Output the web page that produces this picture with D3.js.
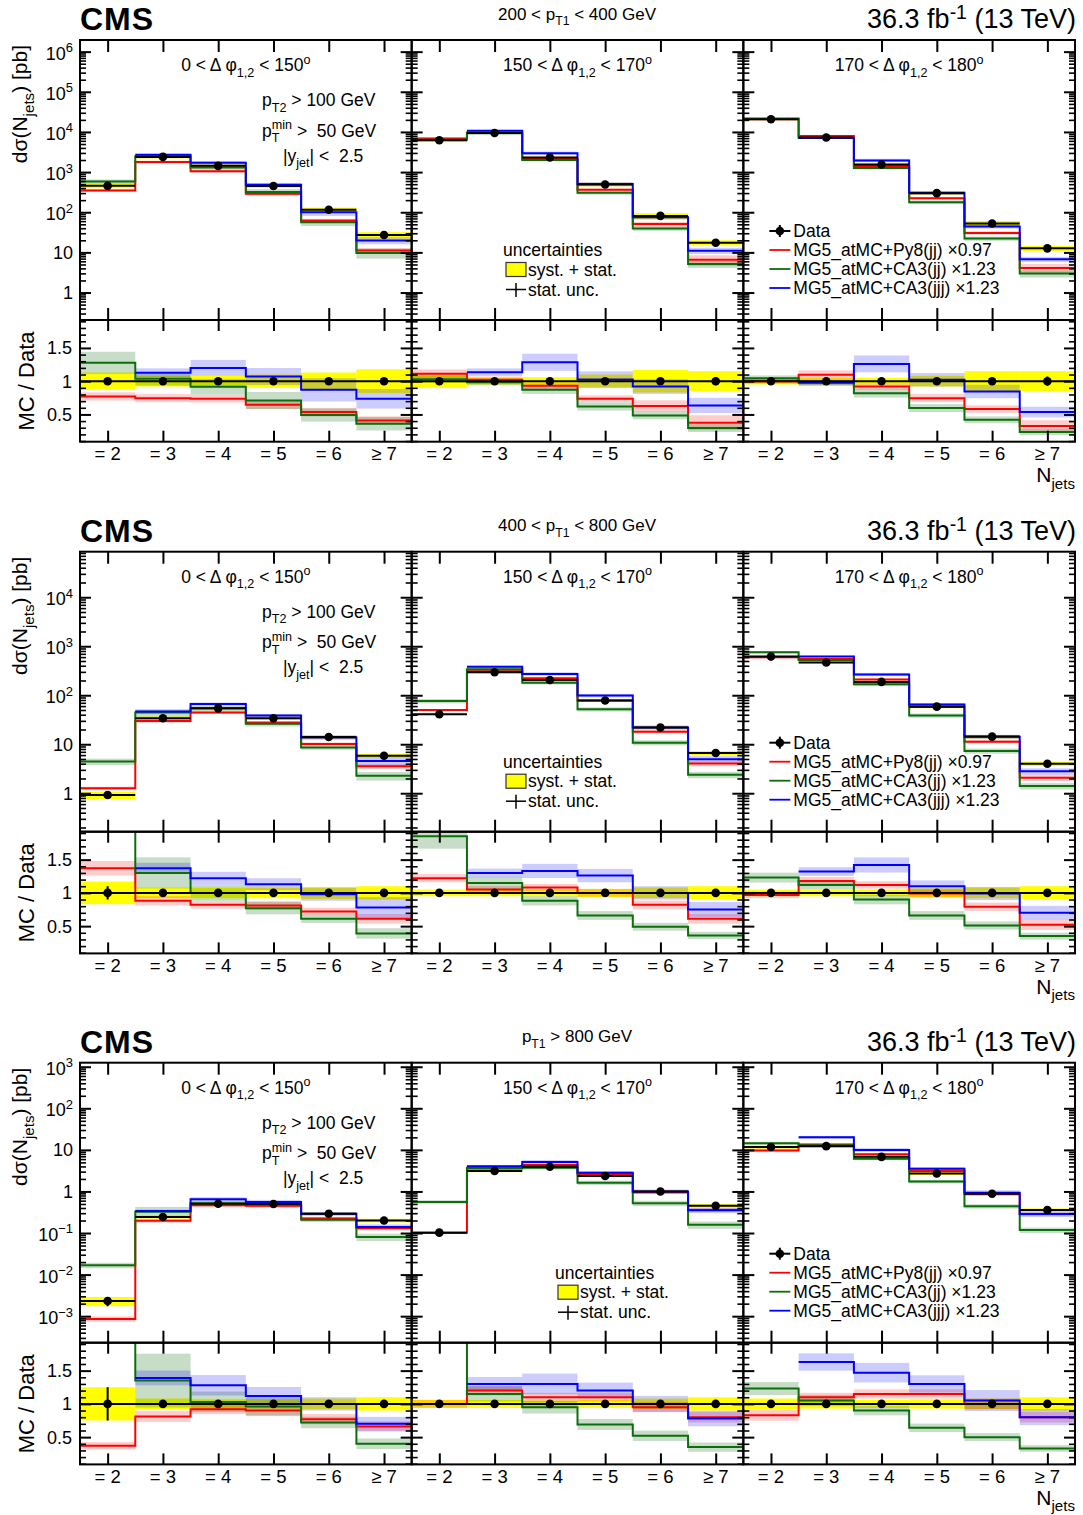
<!DOCTYPE html>
<html><head><meta charset="utf-8">
<script src="https://cdn.jsdelivr.net/npm/d3@7"></script>
<style>
body{margin:0;background:#fff}
text{font-family:"Liberation Sans",Arial,Helvetica,sans-serif;white-space:pre;fill:#000}
</style>
</head><body>
<svg id="c" width="1083" height="1515"></svg>
<script>
// ---------------- DATA ----------------
const njetsLabels = ["= 2","= 3","= 4","= 5","= 6","≥ 7"];
const ptLabels = ["200 < p_{T1} < 400 GeV","400 < p_{T1} < 800 GeV","p_{T1} > 800 GeV"];
const dphiLabels = ["0 < Δ φ_{1,2} < 150^{o}","150 < Δ φ_{1,2} < 170^{o}","170 < Δ φ_{1,2} < 180^{o}"];
const cutLabels = ["p_{T2} > 100 GeV","p_{T}^{min} >  50 GeV","|y_{jet}| <  2.5"];
const modelNames = ["MG5_atMC+Py8(jj) ×0.97","MG5_atMC+CA3(jj) ×1.23","MG5_atMC+CA3(jjj) ×1.23"];
const yDomains = [[0.207,1.95e6],[0.164,8.5e4],[2.3e-4,1.25e3]];
const yTickExp = [[0,1,2,3,4,5,6],[0,1,2,3,4],[-3,-2,-1,0,1,2,3]];
const ratioDomain = [0.09,1.92];
const ratioTicks = [0.5,1,1.5];
const ratioTickLabels = ["0.5","1","1.5"];

// measured cross sections [pTbin][dphiBin][njets]
const dataXsec = [
 [[454,2390,1430,450,115,27],[6200,9440,2300,492,81,17.4],[20700,7260,1550,299,52.6,12.6]],
 [[0.92,34,54,34,14,5.8],[41,295,205,78,22,6.6],[615,465,187,58.5,14.3,4.0]],
 [[0.00232,0.242,0.506,0.5,0.29,0.2],[0.102,3.1,3.93,2.35,1.0,0.45],[11.7,12.3,6.8,2.7,0.88,0.356]]
];
// relative syst+stat
const dataSystRel = [
 [[0.13,0.08,0.08,0.1,0.13,0.18],[0.1,0.05,0.06,0.1,0.17,0.15],[0.05,0.05,0.05,0.08,0.15,0.15]],
 [[0.17,0.08,0.08,0.08,0.09,0.1],[0.05,0.05,0.05,0.06,0.08,0.1],[0.05,0.05,0.05,0.07,0.08,0.1]],
 [[0.25,0.08,0.07,0.07,0.08,0.1],[0.06,0.06,0.05,0.06,0.08,0.1],[0.08,0.07,0.06,0.07,0.08,0.1]]
];
// relative stat
const dataStatRel = [
 [[0.01,0.005,0.005,0.01,0.02,0.03],[0.01,0.005,0.01,0.02,0.03,0.06],[0.005,0.005,0.01,0.02,0.03,0.07]],
 [[0.1,0.02,0.02,0.02,0.03,0.05],[0.02,0.01,0.01,0.02,0.03,0.05],[0.01,0.01,0.01,0.02,0.03,0.05]],
 [[0.25,0.03,0.03,0.03,0.04,0.05],[0.04,0.02,0.02,0.02,0.03,0.05],[0.03,0.02,0.02,0.03,0.04,0.05]]
];
// MC / Data
const ratioPy8 = [
 [[0.77,0.745,0.735,0.645,0.535,0.41],[1.11,1.02,0.93,0.735,0.625,0.375],[1.0,1.096,0.92,0.745,0.58,0.325]],
 [[1.37,0.88,0.82,0.81,0.72,0.61],[1.22,1.05,1.08,1.0,0.82,0.61],[0.97,1.18,1.12,0.99,0.79,0.52]],
 [[0.37,0.81,0.92,0.9,0.77,0.66],[1.0,1.2,1.1,1.1,0.95,0.8],[0.83,1.1,1.15,1.15,1.0,0.8]]
];
const ratioCA3jj = [
 [[1.276,1.036,0.916,0.71,0.49,0.36],[1.03,0.985,0.87,0.62,0.485,0.295],[1.045,0.976,0.82,0.595,0.42,0.235]],
 [[4.8,1.3,1.0,0.77,0.61,0.39],[1.85,1.15,0.88,0.66,0.49,0.36],[1.23,1.12,0.9,0.66,0.51,0.35]],
 [[7.2,1.35,1.03,0.96,0.72,0.4],[5.5,1.15,0.95,0.69,0.52,0.35],[1.23,1.05,0.9,0.64,0.5,0.33]]
];
const ratioCA3jjj = [
 [[null,1.126,1.2,1.07,0.87,0.735],[null,1.135,1.285,1.025,0.92,0.635],[null,0.98,1.26,1.02,0.845,0.535]],
 [[null,1.37,1.22,1.13,0.98,0.78],[null,1.3,1.33,1.26,1.0,0.75],[null,1.32,1.42,1.1,0.99,0.7]],
 [[null,1.39,1.28,1.12,1.0,0.7],[null,1.3,1.3,1.2,1.0,0.78],[null,1.63,1.47,1.3,1.05,0.8]]
];
// MC relative uncertainties
const uncPy8 = [
 [[0.08,0.08,0.08,0.1,0.12,0.15],[0.06,0.05,0.05,0.07,0.14,0.3],[0.04,0.06,0.05,0.08,0.1,0.27]],
 [[0.08,0.08,0.07,0.08,0.08,0.12],[0.05,0.05,0.05,0.06,0.08,0.12],[0.05,0.05,0.05,0.06,0.08,0.15]],
 [[0.15,0.1,0.08,0.08,0.1,0.12],[0.06,0.06,0.06,0.06,0.08,0.1],[0.1,0.06,0.06,0.06,0.08,0.1]]
];
const uncCA3jj = [
 [[0.13,0.1,0.13,0.18,0.2,0.28],[0.05,0.05,0.07,0.1,0.12,0.2],[0.04,0.04,0.08,0.1,0.12,0.2]],
 [[0.15,0.18,0.12,0.12,0.1,0.2],[0.1,0.08,0.08,0.1,0.12,0.15],[0.06,0.06,0.08,0.1,0.12,0.15]],
 [[0.15,0.3,0.15,0.15,0.12,0.2],[0.1,0.1,0.1,0.12,0.15,0.2],[0.08,0.08,0.08,0.1,0.12,0.15]]
];
const uncCA3jjj = [
 [[null,0.06,0.1,0.12,0.2,0.2],[null,0.05,0.1,0.12,0.12,0.18],[null,0.05,0.1,0.1,0.12,0.15]],
 [[null,0.06,0.08,0.08,0.1,0.2],[null,0.05,0.08,0.08,0.1,0.15],[null,0.05,0.08,0.08,0.1,0.15]],
 [[null,0.08,0.12,0.12,0.1,0.15],[null,0.08,0.12,0.1,0.12,0.15],[null,0.08,0.1,0.1,0.15,0.15]]
];

// ---------------- LAYOUT / STYLE ----------------
const colX0 = 80, colW = 331.67;
const blockY = [0, 511.7, 1022.7];
const topY0 = 40, topY1 = 320, ratY1 = 441.7;
const lineColors = ["#ff0000","#0b6e0b","#0000ff"];
const bandColors = ["rgba(255,0,0,0.2)","rgba(0,100,0,0.22)","rgba(0,0,255,0.2)"];
const uncLegendX = [503,503,555];

const svg = d3.select("#c");
const defs = svg.append("defs");
let clipN = 0;
function clip(x,y,w,h){
  const id = "cl"+(clipN++);
  defs.append("clipPath").attr("id",id).append("rect").attr("x",x).attr("y",y).attr("width",w).attr("height",h);
  return "url(#"+id+")";
}

function rich(parent, x, y, str, fs, anchor, extra, supRaise){
  const t = parent.append("text").attr("x",x).attr("y",y).attr("font-size",fs).attr("text-anchor",anchor||"start");
  if (extra) extra(t);
  const toks = str.split(/(_\{[^}]*\}|\^\{[^}]*\})/).filter(s=>s.length);
  let shift = 0, prevSub = null;
  toks.forEach(tok=>{
    let txt = tok, target = 0, size = fs, kind = "n";
    if (tok.startsWith("_{")) { txt = tok.slice(2,-1); target = fs*0.32; size = fs*0.72; kind="sub"; }
    else if (tok.startsWith("^{")) { txt = tok.slice(2,-1); target = -fs*(supRaise||0.42); size = fs*0.72; kind="sup"; }
    const ts = t.append("tspan").attr("dy", target-shift).attr("font-size", size).text(txt);
    if (kind==="sup" && prevSub) ts.attr("dx", -prevSub.node().getComputedTextLength());
    prevSub = kind==="sub" ? ts : null;
    shift = target;
  });
  return t;
}

function stepPath(xs, ys, vals){
  const pts = [];
  let last = -1;
  vals.forEach((v,i)=>{ if (v!=null){ pts.push([xs(i), ys(v)]); last = i; } });
  pts.push([xs(last+1), ys(vals[last])]);
  return d3.line().curve(d3.curveStepAfter)(pts);
}

function styleAxis(g, w){
  g.select(".domain").remove();
  g.selectAll(".tick line").attr("stroke","#000").attr("stroke-width",w);
}

for (let b=0;b<3;b++){
  const yo = blockY[b];
  const yT = d3.scaleLog().domain(yDomains[b]).range([yo+topY1, yo+topY0]);
  const yR = d3.scaleLinear().domain(ratioDomain).range([yo+ratY1, yo+topY1]);
  const majors = yTickExp[b].map(e=>Math.pow(10,e));
  const minors = [];
  const lo = Math.floor(Math.log10(yDomains[b][0])), hi = Math.floor(Math.log10(yDomains[b][1]));
  for (let e=lo;e<=hi;e++) for (let k=2;k<=9;k++){ const v=k*Math.pow(10,e); if (v>=yDomains[b][0] && v<=yDomains[b][1]) minors.push(v); }
  const rMinors = d3.range(1,20).map(k=>k/10).filter(v=>v>ratioDomain[0]&&v<ratioDomain[1]&&[5,10,15].indexOf(Math.round(v*10))<0);

  for (let c=0;c<3;c++){
    const x0 = colX0 + c*colW, x1 = x0 + colW;
    const x = d3.scaleLinear().domain([0,6]).range([x0,x1]);
    const dv = dataXsec[b][c], sy = dataSystRel[b][c], st = dataStatRel[b][c];
    const ratios = [ratioPy8[b][c], ratioCA3jj[b][c], ratioCA3jjj[b][c]];
    const uncs = [uncPy8[b][c], uncCA3jj[b][c], uncCA3jjj[b][c]];
    const idx = d3.range(6);

    // ---- top panel ----
    const gT = svg.append("g").attr("clip-path", clip(x0, yo+topY0, colW, topY1-topY0));
    gT.selectAll("rect.sys").data(idx).join("rect")
      .attr("x",i=>x(i)).attr("width",i=>x(i+1)-x(i))
      .attr("y",i=>yT(dv[i]*(1+sy[i]))).attr("height",i=>yT(dv[i]*(1-sy[i]))-yT(dv[i]*(1+sy[i])))
      .attr("fill","#ffff00");
    ratios.forEach((r,m)=>{
      gT.selectAll("rect.b"+m).data(idx.filter(i=>r[i]!=null)).join("rect")
        .attr("x",i=>x(i)).attr("width",i=>x(i+1)-x(i))
        .attr("y",i=>yT(dv[i]*r[i]*(1+uncs[m][i]))).attr("height",i=>yT(dv[i]*r[i]*(1-uncs[m][i]))-yT(dv[i]*r[i]*(1+uncs[m][i])))
        .attr("fill",bandColors[m]);
    });
    ratios.forEach((r,m)=>{
      gT.append("path").attr("d", stepPath(x, yT, r.map((v,i)=>v==null?null:v*dv[i])))
        .attr("fill","none").attr("stroke",lineColors[m]).attr("stroke-width",2);
    });
    gT.selectAll("line.dh").data(idx).join("line")
      .attr("x1",i=>x(i)).attr("x2",i=>x(i+1)).attr("y1",i=>yT(dv[i])).attr("y2",i=>yT(dv[i]))
      .attr("stroke","#000").attr("stroke-width",2);
    gT.selectAll("line.dv").data(idx).join("line")
      .attr("x1",i=>x(i+0.5)).attr("x2",i=>x(i+0.5)).attr("y1",i=>yT(dv[i]*(1+st[i]))).attr("y2",i=>yT(dv[i]*(1-st[i])))
      .attr("stroke","#000").attr("stroke-width",2);
    gT.selectAll("circle").data(idx).join("circle")
      .attr("cx",i=>x(i+0.5)).attr("cy",i=>yT(dv[i])).attr("r",4.3).attr("fill","#000");

    // ---- ratio panel ----
    const gR = svg.append("g").attr("clip-path", clip(x0, yo+topY1, colW, ratY1-topY1));
    gR.selectAll("rect.sys").data(idx).join("rect")
      .attr("x",i=>x(i)).attr("width",i=>x(i+1)-x(i))
      .attr("y",i=>yR(1+sy[i])).attr("height",i=>yR(1-sy[i])-yR(1+sy[i]))
      .attr("fill","#ffff00");
    ratios.forEach((r,m)=>{
      gR.selectAll("rect.b"+m).data(idx.filter(i=>r[i]!=null)).join("rect")
        .attr("x",i=>x(i)).attr("width",i=>x(i+1)-x(i))
        .attr("y",i=>yR(r[i]*(1+uncs[m][i]))).attr("height",i=>yR(r[i]*(1-uncs[m][i]))-yR(r[i]*(1+uncs[m][i])))
        .attr("fill",bandColors[m]);
    });
    ratios.forEach((r,m)=>{
      gR.append("path").attr("d", stepPath(x, yR, r))
        .attr("fill","none").attr("stroke",lineColors[m]).attr("stroke-width",2);
    });
    gR.append("line").attr("x1",x0).attr("x2",x1).attr("y1",yR(1)).attr("y2",yR(1)).attr("stroke","#000").attr("stroke-width",2);
    gR.selectAll("line.dv").data(idx).join("line")
      .attr("x1",i=>x(i+0.5)).attr("x2",i=>x(i+0.5)).attr("y1",i=>yR(1+st[i])).attr("y2",i=>yR(1-st[i]))
      .attr("stroke","#000").attr("stroke-width",2);
    gR.selectAll("circle").data(idx).join("circle")
      .attr("cx",i=>x(i+0.5)).attr("cy",yR(1)).attr("r",4.3).attr("fill","#000");

    // ---- frames & ticks ----
    const gA = svg.append("g");
    gA.append("rect").attr("x",x0).attr("y",yo+topY0).attr("width",colW).attr("height",topY1-topY0).attr("fill","none").attr("stroke","#000").attr("stroke-width",2);
    gA.append("rect").attr("x",x0).attr("y",yo+topY1).attr("width",colW).attr("height",ratY1-topY1).attr("fill","none").attr("stroke","#000").attr("stroke-width",2);
    const centers = idx.map(i=>i+0.5);
    [[d3.axisBottom, yo+topY0, 12],[d3.axisTop, yo+topY1, 12],[d3.axisBottom, yo+topY1, 11],[d3.axisTop, yo+ratY1, 11]].forEach(([ax,yy,len])=>{
      styleAxis(gA.append("g").attr("transform",`translate(0,${yy})`).call(ax(x).tickValues(centers).tickSize(len).tickFormat("")), 2);
    });
    [[d3.axisRight, x0],[d3.axisLeft, x1]].forEach(([ax,xx])=>{
      styleAxis(gA.append("g").attr("transform",`translate(${xx},0)`).call(ax(yT).tickValues(majors).tickSize(11).tickFormat("")), 2);
      styleAxis(gA.append("g").attr("transform",`translate(${xx},0)`).call(ax(yT).tickValues(minors).tickSize(6).tickFormat("")), 1.6);
      styleAxis(gA.append("g").attr("transform",`translate(${xx},0)`).call(ax(yR).tickValues(ratioTicks).tickSize(11).tickFormat("")), 2);
      styleAxis(gA.append("g").attr("transform",`translate(${xx},0)`).call(ax(yR).tickValues(rMinors).tickSize(6).tickFormat("")), 1.6);
    });

    // ---- texts in panel ----
    rich(svg, (x0+x1)/2, yo+71, dphiLabels[c], 17.5, "middle");
    njetsLabels.forEach((l,i)=>{
      svg.append("text").attr("x",x(i+0.5)).attr("y",yo+460).attr("font-size",18.5).attr("text-anchor","middle").text(l);
    });

    if (c===0){
      rich(svg, x0+182, yo+106, cutLabels[0], 17.5, "start");
      rich(svg, x0+182, yo+136.7, cutLabels[1], 17.5, "start");
      rich(svg, x0+203, yo+161.7, cutLabels[2], 17.5, "start");
      majors.forEach(v=>{
        const e = Math.round(Math.log10(v));
        const s = e===0 ? "1" : e===1 ? "10" : "10^{"+(e<0?"−"+(-e):e)+"}";
        rich(svg, 73, yT(v)+(e>1||e<0?8:6.5), s, 18, "end");
      });
      ratioTicks.forEach((v,k)=>{
        svg.append("text").attr("x",72).attr("y",yR(v)+6.5).attr("font-size",18).attr("text-anchor","end").text(ratioTickLabels[k]);
      });
      rich(svg, 27, yo+45, "dσ(N_{jets}) [pb]", 21, "end", t=>t.attr("transform",`rotate(-90,27,${yo+45})`));
      svg.append("text").attr("x",34).attr("y",yo+381).attr("font-size",22).attr("text-anchor","middle")
        .attr("transform",`rotate(-90,34,${yo+381})`).text("MC / Data");
    }
    if (c===1){
      const lx = uncLegendX[b];
      svg.append("text").attr("x",lx).attr("y",yo+256).attr("font-size",17.5).text("uncertainties");
      svg.append("rect").attr("x",lx+3).attr("y",yo+262.5).attr("width",20).attr("height",14).attr("fill","#ffff00").attr("stroke","#333").attr("stroke-width",1.2);
      svg.append("text").attr("x",lx+25).attr("y",yo+275.5).attr("font-size",17.5).text("syst. + stat.");
      svg.append("line").attr("x1",lx+3).attr("x2",lx+23).attr("y1",yo+289.5).attr("y2",yo+289.5).attr("stroke","#000").attr("stroke-width",1.5);
      svg.append("line").attr("x1",lx+13).attr("x2",lx+13).attr("y1",yo+283).attr("y2",yo+297).attr("stroke","#000").attr("stroke-width",1.5);
      svg.append("text").attr("x",lx+25).attr("y",yo+295.5).attr("font-size",17.5).text("stat. unc.");
    }
    if (c===2){
      const lx = x0+26;
      svg.append("line").attr("x1",lx).attr("x2",lx+21).attr("y1",yo+231).attr("y2",yo+231).attr("stroke","#000").attr("stroke-width",2);
      svg.append("line").attr("x1",lx+10.5).attr("x2",lx+10.5).attr("y1",yo+225).attr("y2",yo+237).attr("stroke","#000").attr("stroke-width",2);
      svg.append("circle").attr("cx",lx+10.5).attr("cy",yo+231).attr("r",4.3).attr("fill","#000");
      svg.append("text").attr("x",lx+24).attr("y",yo+237).attr("font-size",17.5).text("Data");
      modelNames.forEach((n,m)=>{
        const yy = yo+250+19*m;
        svg.append("line").attr("x1",lx).attr("x2",lx+21).attr("y1",yy).attr("y2",yy).attr("stroke",lineColors[m]).attr("stroke-width",1.8);
        svg.append("text").attr("x",lx+24).attr("y",yy+6).attr("font-size",17.5).text(n);
      });
      rich(svg, 1075, yo+482, "N_{jets}", 21, "end");
    }
  }
  // block headers
  svg.append("text").attr("x",80).attr("y",yo+30).attr("font-size",32).attr("font-weight","bold").attr("letter-spacing",1).text("CMS");
  rich(svg, 577, yo+19.5, ptLabels[b], 17, "middle");
  rich(svg, 1076, yo+28, "36.3 fb^{-1} (13 TeV)", 27, "end", null, 0.34);
}
</script>
</body></html>
